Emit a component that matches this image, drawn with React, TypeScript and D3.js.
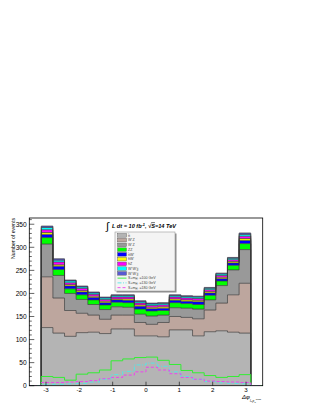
import * as d3 from 'd3';
import { useEffect, useRef } from 'react';

// bin contents, 18 bins over [-pi, pi]
const ttbar = [126, 114, 107, 115, 116, 113, 123, 123, 108, 108, 106, 121, 121, 108, 117, 119, 116, 114];
const wpz = [110, 76, 56, 42, 37, 31, 30, 30, 29, 25, 31, 29, 27, 37, 47, 60, 81, 108];
const wmz = [71, 49, 37, 30, 23, 21, 18, 17, 18, 18, 16, 19, 20, 21, 22, 38, 54, 73];
const zz = [14, 13, 10, 10, 10, 10, 10, 10, 11, 11, 10, 11, 10, 10, 10, 10, 10, 13];
const ttwp = [7, 7, 6, 6, 5, 5, 5, 5, 6, 5, 5, 5, 5, 6, 5, 5, 5, 7];
const ttwm = [4, 3, 3, 3, 3, 3, 2, 3, 3, 3, 3, 3, 3, 3, 3, 3, 3, 4];
const ttz = [6, 6, 4, 5, 4, 4, 4, 4, 4, 4, 4, 4, 4, 4, 4, 4, 4, 5];
const wpwpjj = [5, 4, 4, 3, 3, 3, 3, 3, 3, 3, 3, 3, 3, 3, 3, 3, 3, 4];
const wmwmjj = [3, 3, 2, 2, 2, 2, 2, 2, 2, 2, 2, 2, 2, 2, 2, 2, 2, 3];

const sig100 = [20, 18, 12, 25, 28, 34, 54, 58, 61, 62, 55, 46, 33, 28, 22, 18, 20, 24];
const sig130 = [3, 3, 4, 5, 8, 14, 24, 31, 45, 49, 42, 30, 20, 14, 9, 6, 5, 4];
const sig180 = [7, 7, 8, 9, 11, 15, 18, 23, 30, 40, 34, 26, 18, 14, 10, 9, 8, 7];

const xTicks = [-3, -2, -1, 0, 1, 2, 3];
const yTicks = [0, 50, 100, 150, 200, 250, 300, 350];

const bkgKeys = ['ttbar', 'wpz', 'wmz', 'zz', 'ttwp', 'ttwm', 'ttz', 'wpwpjj', 'wmwmjj'];
const bkgColors = ['#b4b4b4', '#bda69e', '#999999', '#00ff00', '#0000ff', '#ffff00', '#ff00ff', '#00ffff', '#5a5ad2'];
const bkgLabels = ['t̄t', 'W⁺Z', 'W⁻Z', 'ZZ', 't̄tW⁺', 't̄tW⁻', 't̄tZ', 'W⁺W⁺jj', 'W⁻W⁻jj'];
const sigLabels = ['100', '130', '180'];
const sigColors = ['#33ee33', '#55e6e6', '#ee44ee'];
const sigDash = ['none', '4,1.5,1,1.5', '3,2'];

function App() {
    const ref = useRef<SVGSVGElement>(null);

    useEffect(() => {
        const svg = d3.select(ref.current);
        svg.selectAll('*').remove();

        const font = 'Liberation Sans, Arial, sans-serif';
        const left = 29.3, right = 262.7, top = 218, bottom = 385.7;

        const x = d3.scaleLinear().domain([-3.5, 3.5]).range([left, right]);
        const y = d3.scaleLinear().domain([0, 363.5]).range([bottom, top]);

        const nBins = ttbar.length;
        const edges = d3.range(nBins + 1).map(i => -Math.PI + (i * 2 * Math.PI) / nBins);

        const series: Record<string, number[]> = { ttbar, wpz, wmz, zz, ttwp, ttwm, ttz, wpwpjj, wmwmjj };
        const rows = ttbar.map((_, i) => {
            const r: Record<string, number> = {};
            bkgKeys.forEach(k => (r[k] = series[k][i]));
            return r;
        });
        const stacked = d3.stack<Record<string, number>>().keys(bkgKeys)(rows);

        svg.append('clipPath').attr('id', 'frame')
            .append('rect').attr('x', left).attr('y', top)
            .attr('width', right - left).attr('height', bottom - top);

        const g = svg.append('g').attr('clip-path', 'url(#frame)');

        const area = d3.area<{ x: number; y0: number; y1: number }>()
            .x(d => x(d.x)).y0(d => y(d.y0)).y1(d => y(d.y1))
            .curve(d3.curveStepAfter);
        const line = d3.line<[number, number]>()
            .x(d => x(d[0])).y(d => y(d[1]))
            .curve(d3.curveStepAfter);

        stacked.forEach((layer, li) => {
            const pts = edges.map((e, i) => {
                const b = layer[Math.min(i, nBins - 1)];
                return { x: e, y0: b[0], y1: b[1] };
            });
            g.append('path').attr('d', area(pts)).attr('fill', bkgColors[li]);
        });
        stacked.forEach(layer => {
            const pts: [number, number][] = [[edges[0], 0]];
            layer.forEach((b, i) => pts.push([edges[i], b[1]]));
            pts.push([edges[nBins], 0]);
            g.append('path').attr('d', line(pts)).attr('fill', 'none')
                .attr('stroke', '#3a3a3a').attr('stroke-width', 0.7);
        });

        [sig100, sig130, sig180].forEach((s, si) => {
            const pts: [number, number][] = [[-3.5, 0]];
            s.forEach((v, i) => pts.push([edges[i], v]));
            pts.push([edges[nBins], 0]);
            pts.push([3.5, 0]);
            g.append('path').attr('d', line(pts)).attr('fill', 'none')
                .attr('stroke', sigColors[si]).attr('stroke-width', 1)
                .attr('stroke-dasharray', sigDash[si]);
        });

        // frame
        svg.append('rect').attr('x', left).attr('y', top)
            .attr('width', right - left).attr('height', bottom - top)
            .attr('fill', 'none').attr('stroke', '#000').attr('stroke-width', 0.8);

        // y axis ticks
        d3.range(0, 361, 10).forEach(v => {
            const major = v % 50 === 0;
            svg.append('line').attr('x1', left).attr('x2', left + (major ? 5 : 2.5))
                .attr('y1', y(v)).attr('y2', y(v)).attr('stroke', '#000').attr('stroke-width', 0.6);
        });
        yTicks.forEach(v => {
            svg.append('text').attr('x', left - 2.6).attr('y', y(v) + 2.3)
                .attr('text-anchor', 'end').attr('font-family', font).attr('font-size', 6.6)
                .text(v);
        });
        svg.append('text').attr('transform', `translate(15,${top}) rotate(-90)`)
            .attr('text-anchor', 'end').attr('font-family', font).attr('font-size', 5.2)
            .text('Number of events');

        // x axis ticks
        xTicks.forEach(v => {
            svg.append('line').attr('x1', x(v)).attr('x2', x(v))
                .attr('y1', bottom).attr('y2', bottom - 4).attr('stroke', '#000').attr('stroke-width', 0.6);
            svg.append('text').attr('x', x(v)).attr('y', bottom + 6.6)
                .attr('text-anchor', 'middle').attr('font-family', font).attr('font-size', 6.2)
                .text(v);
        });
        const xt = svg.append('text').attr('x', 242).attr('y', 398.5)
            .attr('font-family', font).attr('font-size', 6).attr('font-style', 'italic');
        xt.append('tspan').text('Δφ');
        xt.append('tspan').attr('dy', 3.2).attr('font-size', 3.2).text('l₁,p');
        xt.append('tspan').attr('dy', 1).attr('font-size', 2.5).text('T');
        xt.append('tspan').attr('dy', -3.2).attr('font-size', 2.5).text('miss');

        // title
        svg.append('text').attr('x', 106).attr('y', 229.5)
            .attr('font-family', font).attr('font-size', 11).text('∫');
        const tt = svg.append('text').attr('x', 112).attr('y', 227.5)
            .attr('font-family', font).attr('font-size', 5.6)
            .attr('font-style', 'italic').attr('font-weight', 'bold');
        tt.append('tspan').text('L dt = 10 fb');
        tt.append('tspan').attr('dy', -2).attr('font-size', 3.8).text('-1');
        tt.append('tspan').attr('dy', 2).text(', √');
        tt.append('tspan').attr('text-decoration', 'overline').text('S');
        tt.append('tspan').text('=14 TeV');

        // legend
        const lx = 115, ly = 232, lw = 60, lh = 59;
        svg.append('rect').attr('x', lx + 1.5).attr('y', ly + 1.5).attr('width', lw).attr('height', lh)
            .attr('fill', '#8c8c8c');
        svg.append('rect').attr('x', lx).attr('y', ly).attr('width', lw).attr('height', lh)
            .attr('fill', '#f4f4f4').attr('stroke', '#9a9a9a').attr('stroke-width', 0.6);
        const rowH = (lh - 2) / 12;
        bkgLabels.forEach((lab, i) => {
            const cy = ly + 1 + rowH * (i + 0.5);
            svg.append('rect').attr('x', lx + 2.5).attr('y', cy - 1.8).attr('width', 9).attr('height', 3.6)
                .attr('fill', bkgColors[i]).attr('stroke', '#555').attr('stroke-width', 0.4);
            svg.append('text').attr('x', lx + 13).attr('y', cy + 1.3)
                .attr('font-family', font).attr('font-size', 3.6).attr('fill', '#444').text(lab);
        });
        sigLabels.forEach((m, i) => {
            const cy = ly + 1 + rowH * (i + 9.5);
            svg.append('line').attr('x1', lx + 2.5).attr('x2', lx + 11.5).attr('y1', cy).attr('y2', cy)
                .attr('stroke', sigColors[i]).attr('stroke-width', 0.9).attr('stroke-dasharray', sigDash[i]);
            const t = svg.append('text').attr('x', lx + 13).attr('y', cy + 1.3)
                .attr('font-family', font).attr('font-size', 3.6).attr('fill', '#444');
            t.append('tspan').text('S+m');
            t.append('tspan').attr('dy', 0.8).attr('font-size', 2.6).text('H⁺⁺');
            t.append('tspan').attr('dy', -0.8).text(`=${m} GeV`);
        });
    }, []);

    return (
        <div style={{ position: 'absolute', left: 0, top: 0 }}>
            <svg ref={ref} width={315} height={407} style={{ display: 'block', background: '#fff' }} />
        </div>
    );
}

export default App;
